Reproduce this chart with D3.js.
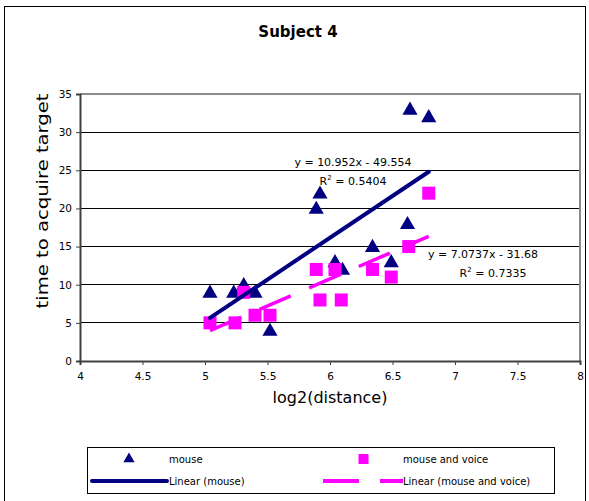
<!DOCTYPE html>
<html>
<head>
<meta charset="utf-8">
<script src="https://cdn.jsdelivr.net/npm/d3@7"></script>
<style>
  html, body { margin: 0; padding: 0; background: #fff; }
  svg text { font-family: "DejaVu Sans", Verdana, sans-serif; fill: #000; }
</style>
</head>
<body>
<script>
// ---- data ----
const title = "Subject 4";
const xTicks = [4, 4.5, 5, 5.5, 6, 6.5, 7, 7.5, 8];
const yTicks = [0, 5, 10, 15, 20, 25, 30, 35];
const mouseX = [5.04, 5.23, 5.31, 5.40, 5.52, 5.89, 5.92, 6.04, 6.10, 6.34, 6.49, 6.62, 6.64, 6.79];
const mouseY = [9, 9, 10, 9, 4, 20, 22, 13, 12, 15, 13, 18, 33, 32];
const voiceX = [5.04, 5.24, 5.31, 5.40, 5.52, 5.89, 5.92, 6.04, 6.09, 6.34, 6.49, 6.63, 6.79];
const voiceY = [5, 5, 9, 6, 6, 12, 8, 12, 8, 12, 11, 15, 22];
const mouseFit = { slope: 10.952, intercept: -49.554, r2: "0.5404" };
const voiceFit = { slope: 7.0737, intercept: -31.68, r2: "0.7335" };
const seriesNames = ["mouse", "mouse and voice", "Linear (mouse)", "Linear (mouse and voice)"];

const W = 589, H = 501;
const navy = "#000080", magenta = "#FF00FF";

const svg = d3.select("body").append("svg").attr("width", W).attr("height", H);

// outer chart border
svg.append("rect").attr("x", 4.5).attr("y", 6.5).attr("width", 581).attr("height", 500)
  .attr("fill", "none").attr("stroke", "#000").attr("stroke-width", 1);

const x = d3.scaleLinear().domain([4, 8]).range([80, 580]);
const y = d3.scaleLinear().domain([0, 35]).range([361, 94]);

// title
svg.append("text").attr("x", 298).attr("y", 37).attr("text-anchor", "middle")
  .attr("font-size", 15).attr("font-weight", "bold").text(title);

// gridlines
svg.append("g").selectAll("line").data(yTicks.filter(d => d > 0 && d < 35)).join("line")
  .attr("x1", x(4)).attr("x2", x(8)).attr("y1", d => y(d)).attr("y2", d => y(d))
  .attr("stroke", "#000").attr("stroke-width", 1).attr("shape-rendering", "crispEdges");

// plot border (gray) top and right
svg.append("path")
  .attr("d", `M${x(4)},${y(35)}H${x(8)}V${y(0)}`)
  .attr("fill", "none").attr("stroke", "#8c8c8c").attr("stroke-width", 2);

// axes
const yAxis = d3.axisLeft(y).tickValues(yTicks).tickSize(4).tickPadding(4).tickFormat(d3.format("d"));
const gy = svg.append("g").attr("transform", `translate(${x(4)},0)`).call(yAxis);
const xAxis = d3.axisBottom(x).tickValues(xTicks).tickSize(4).tickPadding(8).tickFormat(d => String(d));
const gx = svg.append("g").attr("transform", `translate(0,${y(0)})`).call(xAxis);
[gx, gy].forEach(g => {
  g.select(".domain").attr("stroke", "#404040").attr("stroke-width", 2);
  g.selectAll(".tick line").attr("stroke", "#404040").attr("stroke-width", 1);
  g.selectAll(".tick text").attr("font-family", "DejaVu Sans, Verdana, sans-serif")
    .attr("font-size", 10.5).attr("fill", "#000");
});

// axis titles
svg.append("text").attr("x", 330).attr("y", 403).attr("text-anchor", "middle")
  .attr("font-size", 16).text("log2(distance)");
svg.append("text").attr("transform", "translate(48,201) rotate(-90)").attr("text-anchor", "middle")
  .attr("font-size", 16).attr("textLength", 215).attr("lengthAdjust", "spacingAndGlyphs")
  .text("time to acquire target");

// markers
const tri = d3.symbol().type(d3.symbolTriangle).size(100);
const mouseData = mouseX.map((v, i) => [v, mouseY[i]]);
const voiceData = voiceX.map((v, i) => [v, voiceY[i]]);

svg.append("g").selectAll("path").data(mouseData).join("path")
  .attr("d", tri).attr("transform", d => `translate(${x(d[0])},${y(d[1]) + 1})`)
  .attr("fill", navy);

const sq = 13;
svg.append("g").selectAll("rect").data(voiceData).join("rect")
  .attr("x", d => x(d[0]) - sq / 2).attr("y", d => y(d[1]) - sq / 2)
  .attr("width", sq).attr("height", sq).attr("fill", magenta);

// trendlines
function fitLine(xs, fit) {
  const [lo, hi] = d3.extent(xs);
  return [[lo, fit.slope * lo + fit.intercept], [hi, fit.slope * hi + fit.intercept]];
}
const line = d3.line().x(d => x(d[0])).y(d => y(d[1]));
svg.append("path").attr("d", line(fitLine(voiceX, voiceFit)))
  .attr("fill", "none").attr("stroke", magenta).attr("stroke-width", 3.5)
  .attr("stroke-dasharray", "34,20");
svg.append("path").attr("d", line(fitLine(mouseX, mouseFit)))
  .attr("fill", "none").attr("stroke", navy).attr("stroke-width", 4).attr("stroke-linecap", "round");

// equation labels
function eqLabel(cx, by, fit, cx2, by2) {
  const t1 = svg.append("text").attr("x", cx).attr("y", by).attr("text-anchor", "middle").attr("font-size", 11);
  t1.text(`y = ${fit.slope}x - ${Math.abs(fit.intercept)}`);
  const t2 = svg.append("text").attr("x", cx2).attr("y", by2).attr("text-anchor", "middle").attr("font-size", 11);
  t2.append("tspan").text("R");
  t2.append("tspan").attr("font-size", 7).attr("dy", -5).text("2");
  t2.append("tspan").attr("dy", 5).text(` = ${fit.r2}`);
}
eqLabel(353, 166, mouseFit, 353, 185);
eqLabel(483, 258, voiceFit, 493, 277);

// legend
const lg = svg.append("g");
lg.append("rect").attr("x", 87.5).attr("y", 447.5).attr("width", 467).attr("height", 46)
  .attr("fill", "#fff").attr("stroke", "#000").attr("stroke-width", 1);
lg.append("path").attr("d", d3.symbol().type(d3.symbolTriangle).size(55))
  .attr("transform", "translate(129,459)").attr("fill", navy);
lg.append("rect").attr("x", 358.5).attr("y", 454).attr("width", 10).attr("height", 10).attr("fill", magenta);
lg.append("line").attr("x1", 92).attr("x2", 167).attr("y1", 481).attr("y2", 481)
  .attr("stroke", navy).attr("stroke-width", 4).attr("stroke-linecap", "round");
lg.append("line").attr("x1", 323).attr("x2", 359).attr("y1", 481).attr("y2", 481)
  .attr("stroke", magenta).attr("stroke-width", 4);
lg.append("line").attr("x1", 380).attr("x2", 403).attr("y1", 481).attr("y2", 481)
  .attr("stroke", magenta).attr("stroke-width", 4);
const legPos = [[169, 463], [403, 463], [169, 485], [403, 485]];
lg.selectAll("text.lt").data(seriesNames).join("text").attr("class", "lt")
  .attr("x", (d, i) => legPos[i][0]).attr("y", (d, i) => legPos[i][1])
  .attr("font-size", 10).text(d => d);
</script>
</body>
</html>
